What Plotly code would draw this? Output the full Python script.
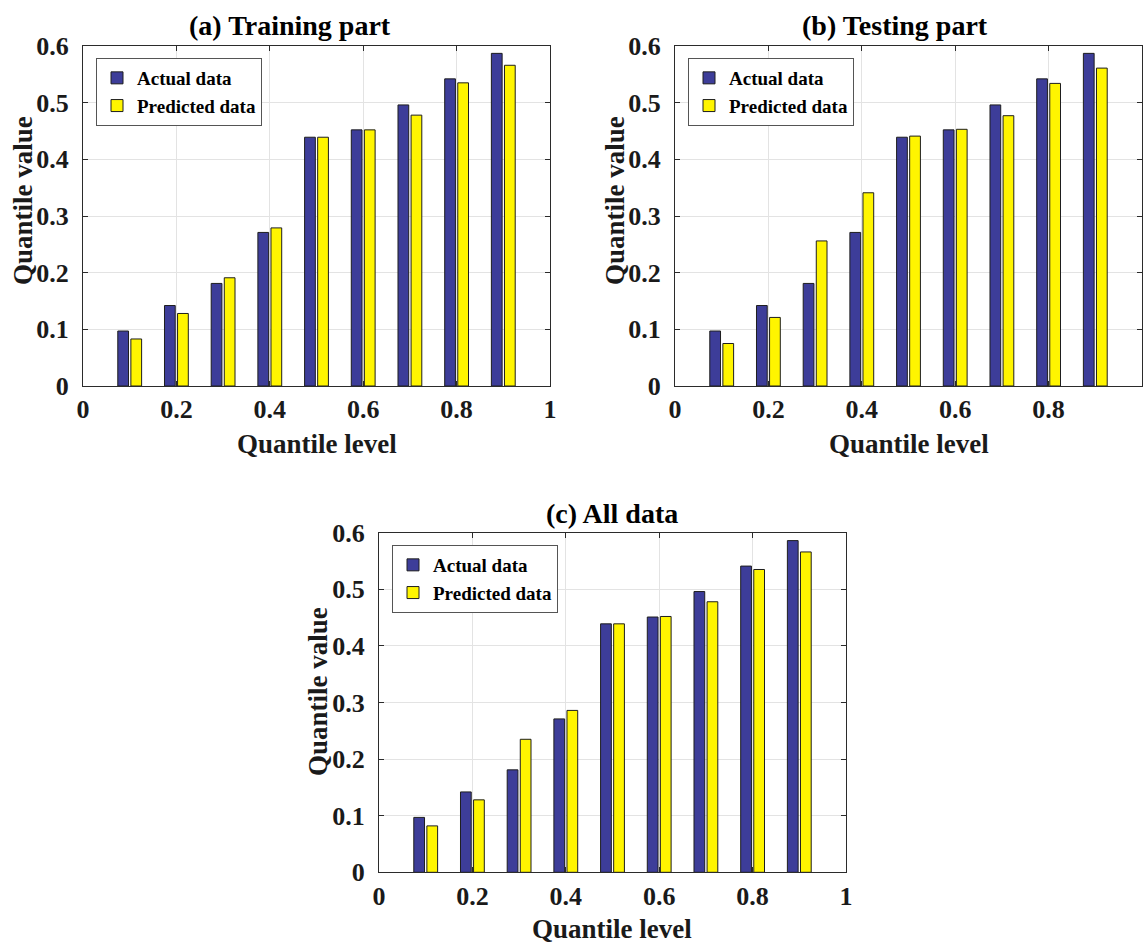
import plotly.graph_objects as go

quantile_levels = [0.1, 0.2, 0.3, 0.4, 0.5, 0.6, 0.7, 0.8, 0.9]

train_actual = [0.097, 0.142, 0.181, 0.271, 0.439, 0.452, 0.496, 0.542, 0.587]
train_pred = [0.083, 0.128, 0.191, 0.279, 0.439, 0.452, 0.478, 0.535, 0.566]

test_actual = [0.097, 0.142, 0.181, 0.271, 0.439, 0.452, 0.496, 0.542, 0.587]
test_pred = [0.075, 0.121, 0.256, 0.341, 0.441, 0.453, 0.477, 0.534, 0.561]

all_actual = [0.097, 0.142, 0.181, 0.271, 0.439, 0.451, 0.496, 0.541, 0.586]
all_pred = [0.082, 0.128, 0.235, 0.286, 0.439, 0.452, 0.478, 0.535, 0.566]

panel_titles = ["(a) Training part", "(b) Testing part", "(c) All data"]
series_names = ["Actual data", "Predicted data"]
x_ticks = [0, 0.2, 0.4, 0.6, 0.8, 1]
x_ticktext = ["0", "0.2", "0.4", "0.6", "0.8", "1"]
y_ticks = [0, 0.1, 0.2, 0.3, 0.4, 0.5, 0.6]
y_ticktext = ["0", "0.1", "0.2", "0.3", "0.4", "0.5", "0.6"]

W, H = 1146, 943
FONT = "Liberation Serif, Times New Roman, serif"
TXT = "#1a1a1a"
BLUE = "#3d3d99"
YELLOW = "#fff500"
EDGE = "#1e1e1e"

# axes boxes in pixels: (left, right, top, bottom)
boxes = [(83, 550, 46, 386), (675, 1142, 46, 386), (379, 846, 532.7, 872.3)]
legend_pos = [(96, 58), (688, 58), (392, 545)]
title_pos = [(290, 26), (895, 26), (612, 513)]
xtitle_pos = [(317, 444), (909, 444), (612, 929)]
ytitle_pos = [(23, 201), (615, 201), (318, 692)]

data_sets = [(train_actual, train_pred), (test_actual, test_pred), (all_actual, all_pred)]

fig = go.Figure()
legend_keys = ["legend", "legend2", "legend3"]

for i, (act, pred) in enumerate(data_sets):
    sfx = "" if i == 0 else str(i + 1)
    fig.add_trace(go.Bar(
        x=quantile_levels, y=act, name=series_names[0],
        width=0.023, offset=-0.0255,
        marker=dict(color=BLUE, line=dict(color=EDGE, width=1)),
        xaxis="x" + sfx, yaxis="y" + sfx, legend=legend_keys[i],
    ))
    fig.add_trace(go.Bar(
        x=quantile_levels, y=pred, name=series_names[1],
        width=0.023, offset=0.0025,
        marker=dict(color=YELLOW, line=dict(color=EDGE, width=1)),
        xaxis="x" + sfx, yaxis="y" + sfx, legend=legend_keys[i],
    ))

layout = dict(
    template="none",
    width=W, height=H,
    margin=dict(l=0, r=0, t=0, b=0, pad=0, autoexpand=False),
    paper_bgcolor="white", plot_bgcolor="white",
    barmode="overlay",
    font=dict(family=FONT, color=TXT),
    annotations=[],
)

axis_common = dict(
    showline=True, linecolor="#2b2b2b", linewidth=1, mirror="allticks",
    ticks="inside", ticklen=5, tickcolor="#2b2b2b", tickwidth=1,
    showgrid=True, gridcolor="#e3e3e3", gridwidth=1,
    zeroline=False, fixedrange=True, automargin=False,
    tickfont=dict(family=FONT, size=26, color=TXT, weight="bold"),
)

for i, (l, r, t, b) in enumerate(boxes):
    sfx = "" if i == 0 else str(i + 1)
    layout["xaxis" + sfx] = dict(
        axis_common, domain=[l / W, r / W], anchor="y" + sfx,
        range=[0, 1], tickvals=x_ticks, ticktext=x_ticktext,
        ticklabelstandoff=0,
    )
    layout["yaxis" + sfx] = dict(
        axis_common, domain=[1 - b / H, 1 - t / H], anchor="x" + sfx,
        range=[0, 0.6], tickvals=y_ticks, ticktext=y_ticktext,
        ticklabelstandoff=8,
    )
    lx, ly = legend_pos[i]
    layout[legend_keys[i]] = dict(
        x=lx / W, y=1 - ly / H, xanchor="left", yanchor="top",
        bgcolor="white", bordercolor="#555555", borderwidth=1,
        font=dict(family=FONT, size=19, color="black", weight="bold"),
        tracegroupgap=0, itemwidth=30,
    )
    tx, ty = title_pos[i]
    layout["annotations"].append(dict(
        text="<b>" + panel_titles[i] + "</b>", x=tx / W, y=1 - ty / H,
        xref="paper", yref="paper", showarrow=False,
        xanchor="center", yanchor="middle",
        font=dict(family=FONT, size=28, color="black"),
    ))
    xx, xy = xtitle_pos[i]
    layout["annotations"].append(dict(
        text="<b>Quantile level</b>", x=xx / W, y=1 - xy / H,
        xref="paper", yref="paper", showarrow=False,
        xanchor="center", yanchor="middle",
        font=dict(family=FONT, size=27, color=TXT),
    ))
    yx, yy = ytitle_pos[i]
    layout["annotations"].append(dict(
        text="<b>Quantile value</b>", x=yx / W, y=1 - yy / H,
        xref="paper", yref="paper", showarrow=False, textangle=-90,
        xanchor="center", yanchor="middle",
        font=dict(family=FONT, size=27, color=TXT),
    ))

fig.update_layout(layout)
fig.write_html("out.html")
